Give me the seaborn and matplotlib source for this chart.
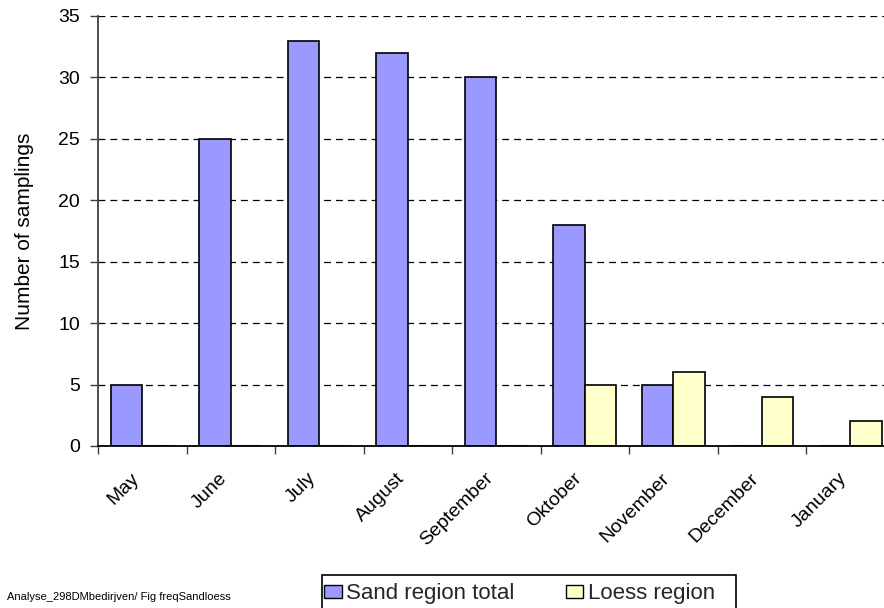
import numpy as np
import pandas as pd
import seaborn as sns
import matplotlib
matplotlib.use("Agg")
import matplotlib.pyplot as plt
from matplotlib.patches import Patch, Rectangle

# Monthly number of samplings per region
months = ["May", "June", "July", "August", "September",
          "Oktober", "November", "December", "January"]
sand_total = [5, 25, 33, 32, 30, 18, 5, 0, 0]
loess = [0, 0, 0, 0, 0, 5, 6, 4, 2]
series_names = ["Sand region total", "Loess region"]
series_colors = ["#9999FF", "#FFFFCC"]
y_ticks = [0, 5, 10, 15, 20, 25, 30, 35]

df = pd.DataFrame({
    "Month": months * 2,
    "Samplings": sand_total + loess,
    "Region": [series_names[0]] * len(months) + [series_names[1]] * len(months),
})

sns.set_theme(style="white")
plt.rcParams["font.family"] = ["Liberation Sans", "DejaVu Sans"]

W, H = 884, 608
fig = plt.figure(figsize=(W / 100, H / 100), dpi=100)
ax = fig.add_axes([98 / W, 1 - 446 / H, 796.5 / W, 430 / H])

sns.barplot(data=df, x="Month", y="Samplings", hue="Region",
            order=months, hue_order=series_names, palette=series_colors,
            width=0.715, gap=0, edgecolor="black", linewidth=1.2,
            saturation=1, errorbar=None, legend=False, ax=ax)

ax.set_xlim(-0.5, len(months) - 0.5)
ax.set_ylim(0, 35)
ax.set_yticks(y_ticks)

# dashed horizontal gridlines
ax.grid(axis="y", color="black", linestyle=(0, (5.5, 4)), linewidth=0.9)
ax.grid(axis="x", visible=False)
ax.set_axisbelow(True)

for side in ("top", "right"):
    ax.spines[side].set_visible(False)
ax.spines["left"].set_color("#404040")
ax.spines["left"].set_linewidth(1.3)
ax.spines["bottom"].set_color("black")
ax.spines["bottom"].set_linewidth(1.3)

ax.tick_params(axis="y", direction="out", length=6, width=1, color="#404040",
               pad=7, labelsize=14, left=True, labelcolor="black")
ax.set_xticks(np.arange(-0.5, len(months), 1), minor=True)
ax.tick_params(axis="x", which="minor", direction="out", length=6, width=1,
               color="#404040", bottom=True)
ax.tick_params(axis="x", which="major", length=0, pad=17, labelsize=14,
               labelcolor="black")
plt.setp(ax.get_xticklabels(), rotation=45, ha="right")

ax.set_xlabel("")
ax.set_ylabel("Number of samplings", fontsize=15, color="black")
ax.yaxis.set_label_coords(-0.0805, 0.5)

# legend below the plot with a plain rectangular frame
handles = [Patch(facecolor=c, edgecolor="black", linewidth=1) for c in series_colors]
fig.legend(handles, series_names, loc="center left",
           bbox_to_anchor=(324 / W, 1 - 594 / H), ncol=2, frameon=False,
           fontsize=16, handlelength=0.8, handleheight=0.55,
           handletextpad=0.2, columnspacing=2.3, borderpad=0, borderaxespad=0)
fig.add_artist(Rectangle((322 / W, -0.05), (736 - 322) / W, 0.05 + (608 - 575) / H,
                         transform=fig.transFigure, fill=False,
                         edgecolor="black", linewidth=1.2))

fig.text(7 / W, 1 - 597 / H, "Analyse_298DMbedirjven/ Fig freqSandloess",
         fontsize=8, ha="left", va="center", color="black")

fig.savefig("out.png", dpi=100)
